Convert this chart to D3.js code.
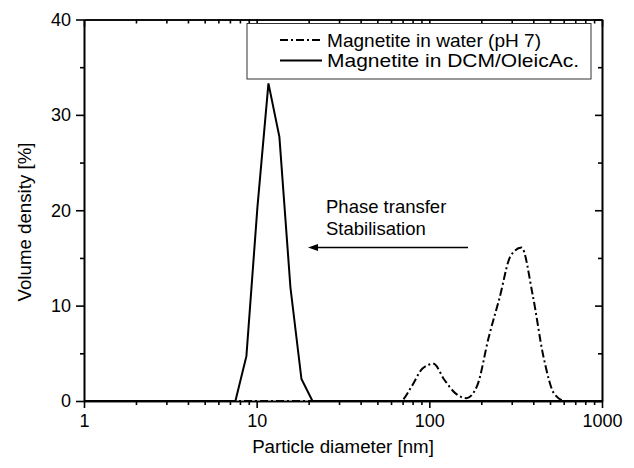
<!DOCTYPE html>
<html lang="en">
<head>
  <meta charset="UTF-8">
  <title>Particle size distribution</title>
  <style>
    body { margin: 0; background: #fff; }
    svg { display: block; font-family: "Liberation Sans", Arial, sans-serif; }
    .axis path, .axis line { stroke: #000; stroke-width: 1.6px; }
    .axis text { font-size: 18px; fill: #000; }
  </style>
</head>
<body>
  <svg id="chart" width="634" height="468"></svg>
  <script src="https://d3js.org/d3.v7.min.js"></script>
  <script>
    // Magnetite in DCM/OleicAc. (solid)
    const dcmSize = [1, 7.531, 8.721, 10.1, 11.7, 13.54, 15.69, 18.17, 21.04, 1000]
    const dcmVol = [0, 0, 4.7, 20.3, 33.3, 27.7, 11.9, 2.3, 0, 0]

    // Magnetite in water (pH 7) (dash-dot)
    const waterSize = [1, 58.77, 68.06, 78.82, 91.28, 105.7, 122.4, 141.8, 164.2, 190.1,
      220.2, 255.0, 295.3, 342.0, 396.1, 458.7, 531.2, 615.1, 1000]
    const waterVol = [0, 0, 0, 1.5, 3.4, 3.9, 2.2, 0.8, 0.3, 1.7,
      6.6, 10.8, 15.2, 16.1, 11.2, 4.6, 0.7, 0, 0]

    const xMajor = [1, 10, 100, 1000]
    const yMajor = [0, 10, 20, 30, 40]
    const yMinor = [5, 15, 25, 35]
    const legendLabels = ['Magnetite in water (pH 7)', 'Magnetite in DCM/OleicAc.']

    const svg = d3.select('#chart')
    const pLeft = 84, pRight = 602, pTop = 19.5, pBottom = 401

    const x = d3.scaleLog().domain([1, 1000]).range([pLeft, pRight])
    const y = d3.scaleLinear().domain([0, 40]).range([pBottom, pTop])

    const xMinor = []
    for (let d = 1; d < 1000; d *= 10) {
      for (let k = 2; k <= 9; k++) xMinor.push(d * k)
    }

    // bottom axis (outward ticks)
    svg.append('g').attr('class', 'axis')
      .attr('transform', `translate(0,${pBottom})`)
      .call(d3.axisBottom(x).tickValues(xMinor).tickSize(4).tickFormat('').tickSizeOuter(0))
    svg.append('g').attr('class', 'axis')
      .attr('transform', `translate(0,${pBottom})`)
      .call(d3.axisBottom(x).tickValues(xMajor).tickSize(7).tickPadding(6).tickFormat(d3.format('d')).tickSizeOuter(0))

    // top axis (inward ticks, no labels)
    svg.append('g').attr('class', 'axis')
      .attr('transform', `translate(0,${pTop})`)
      .call(d3.axisBottom(x).tickValues(xMinor).tickSize(4).tickFormat('').tickSizeOuter(0))
    svg.append('g').attr('class', 'axis')
      .attr('transform', `translate(0,${pTop})`)
      .call(d3.axisBottom(x).tickValues(xMajor).tickSize(7).tickFormat('').tickSizeOuter(0))

    // left axis (outward ticks)
    svg.append('g').attr('class', 'axis')
      .attr('transform', `translate(${pLeft},0)`)
      .call(d3.axisLeft(y).tickValues(yMinor).tickSize(4).tickFormat('').tickSizeOuter(0))
    svg.append('g').attr('class', 'axis')
      .attr('transform', `translate(${pLeft},0)`)
      .call(d3.axisLeft(y).tickValues(yMajor).tickSize(8).tickPadding(5).tickSizeOuter(0))

    // right axis (inward ticks)
    svg.append('g').attr('class', 'axis')
      .attr('transform', `translate(${pRight},0)`)
      .call(d3.axisLeft(y).tickValues(yMinor).tickSize(4).tickFormat('').tickSizeOuter(0))
    svg.append('g').attr('class', 'axis')
      .attr('transform', `translate(${pRight},0)`)
      .call(d3.axisLeft(y).tickValues(yMajor).tickSize(7).tickFormat('').tickSizeOuter(0))

    // axis titles
    svg.append('text')
      .attr('x', (pLeft + pRight) / 2).attr('y', 453)
      .attr('text-anchor', 'middle').attr('font-size', 18.7)
      .text('Particle diameter [nm]')
    svg.append('text')
      .attr('transform', 'translate(31,222) rotate(-90)')
      .attr('text-anchor', 'middle').attr('font-size', 18.7)
      .text('Volume density [%]')

    // data lines
    const dcmLine = d3.line()
      .x((d, i) => x(dcmSize[i]))
      .y(d => y(d))
    const waterLine = d3.line()
      .x((d, i) => x(waterSize[i]))
      .y(d => y(d))
      .curve(d3.curveMonotoneX)

    svg.append('path')
      .attr('d', waterLine(waterVol))
      .attr('fill', 'none').attr('stroke', '#000').attr('stroke-width', 2)
      .attr('stroke-dasharray', '8,3,2,3')
    svg.append('path')
      .attr('d', dcmLine(dcmVol))
      .attr('fill', 'none').attr('stroke', '#000').attr('stroke-width', 2)
      .attr('stroke-linejoin', 'miter')

    // legend
    const legendWidths = [214, 252]
    const legend = svg.append('g')
    legend.append('rect')
      .attr('x', 247).attr('y', 23.5).attr('width', 344).attr('height', 55.5)
      .attr('fill', '#fff').attr('stroke', '#333').attr('stroke-width', 1)
    legend.selectAll('.legend-row')
      .data(legendLabels)
      .enter()
      .append('g')
      .attr('transform', (d, i) => `translate(0,${40 + 20.5 * i})`)
      .call(g => g.append('line')
        .attr('x1', 280).attr('x2', 322)
        .attr('stroke', '#000').attr('stroke-width', 2)
        .attr('stroke-dasharray', (d, i) => i === 0 ? '8,3,2,3' : null))
      .call(g => g.append('text')
        .attr('x', 327).attr('dy', '0.35em').attr('font-size', 19)
        .attr('textLength', (d, i) => legendWidths[i])
        .attr('lengthAdjust', 'spacingAndGlyphs')
        .text(d => d))

    // annotation
    svg.append('text').attr('x', 326).attr('y', 213).attr('font-size', 18.5).text('Phase transfer')
    svg.append('text').attr('x', 326).attr('y', 235).attr('font-size', 18.5).text('Stabilisation')
    svg.append('line')
      .attr('x1', 468).attr('y1', 247.5).attr('x2', 316).attr('y2', 247.5)
      .attr('stroke', '#000').attr('stroke-width', 1.5)
    svg.append('path')
      .attr('d', 'M308,247.5 L318,244 L318,251 Z')
      .attr('fill', '#000')
  </script>
</body>
</html>
